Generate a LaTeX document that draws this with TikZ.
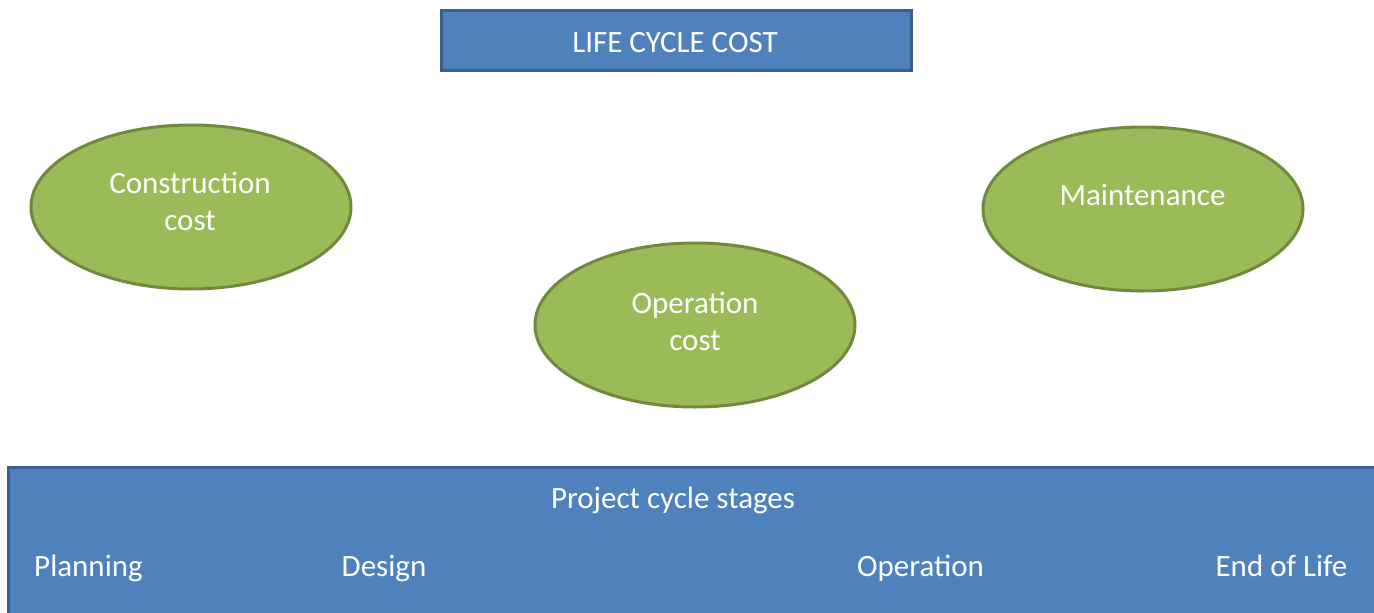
\documentclass[tikz,border=0pt]{standalone}
\usepackage{fontspec}
\setmainfont{Carlito}
\usetikzlibrary{shapes.geometric}
\definecolor{boxblue}{HTML}{4F81BD}
\definecolor{boxborder}{HTML}{3A5F8C}
\definecolor{ellgreen}{HTML}{9BBB59}
\definecolor{ellborder}{HTML}{71893F}
\tikzset{
  txt/.style={font=\fontsize{31}{37}\selectfont, text=white, anchor=base, inner sep=0pt},
  bluebox/.style={draw=boxborder, fill=boxblue, line width=3pt, inner sep=0pt},
  cost/.style={ellipse, draw=ellborder, fill=ellgreen, line width=3pt, inner sep=0pt, minimum width=320pt, minimum height=164pt},
}
\begin{document}
\begin{tikzpicture}[x=1pt,y=-1pt]
\useasboundingbox (0,0) rectangle (1374,613);
\fill[white] (0,0) rectangle (1374,613);
% top title box
\node[bluebox, minimum width=470pt, minimum height=60pt] (title) at (676.5,40) {};
\node[txt] (titletext) at (675,52) {LIFE CYCLE COST};
% ellipses
\node[cost] (construction) at (191,207) {};
\node[txt] (constructiona) at (190,193) {Construction};
\node[txt] (constructionb) at (190,230) {cost};
\node[cost] (operationcost) at (695,325) {};
\node[txt] (operationa) at (695,313) {Operation};
\node[txt] (operationb) at (695,350) {cost};
\node[cost] (maintenance) at (1143,209) {};
\node[txt] (maintenancet) at (1142.5,205) {Maintenance};
% bottom box
\draw[bluebox] (8,467) rectangle (1385,625);
\node[txt] (stages) at (673,508) {Project cycle stages};
\node[txt] (planning) at (88.5,576) {Planning};
\node[txt] (design) at (384,576) {Design};
\node[txt] (operation) at (920.5,576) {Operation};
\node[txt] (endoflife) at (1281.5,576) {End of Life};
\end{tikzpicture}
\end{document}
